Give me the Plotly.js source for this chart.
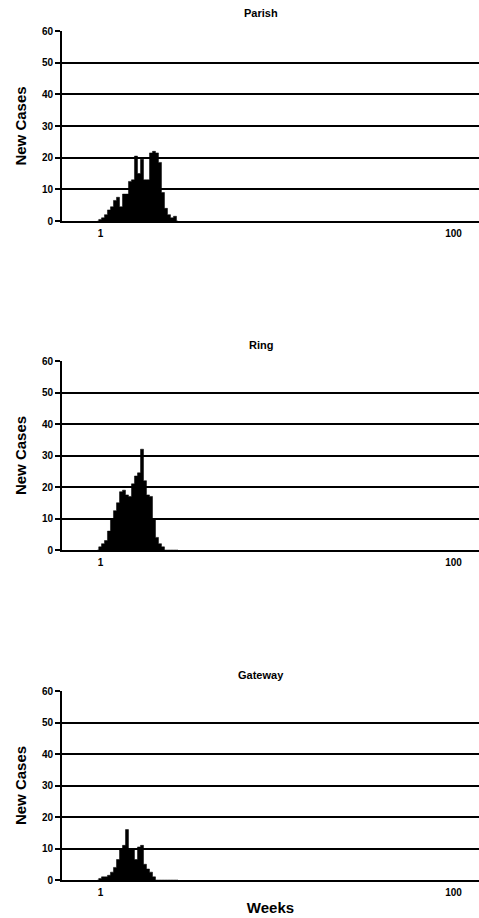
<!DOCTYPE html>
<html>
<head>
<meta charset="utf-8">
<script src="https://cdn.plot.ly/plotly-3.0.1.min.js"></script>
<style>html,body{margin:0;padding:0;background:#fff;}#chart{width:479px;height:918px;}</style>
</head>
<body>
<div id="chart"></div>
<script>
// Bin centres (weeks), with empty edge bins
const weeks = [0.961, 0.994, 1.033, 1.074, 1.117, 1.162, 1.208, 1.257, 1.307, 1.359, 1.413, 1.469, 1.528, 1.589, 1.653, 1.719, 1.787, 1.858, 1.933, 2.010, 2.090, 2.173, 2.260, 2.350, 2.444, 2.542, 2.643, 2.749];
const parishCases  = [0, 0.5, 1, 2, 3.5, 4.5, 6.5, 7.5, 4.5, 8.5, 8.5, 12.5, 13, 20.5, 15, 19.5, 13, 13, 21.5, 22, 21.5, 18.5, 9, 4, 2, 1, 1.5, 0];
const ringCases    = [0, 1, 2, 3, 6, 10, 12.5, 15, 18.5, 19, 17.5, 17, 21, 23.5, 24.5, 32, 22, 17.5, 17, 10, 4, 2, 1, 0, 0, 0, 0, 0];
const gatewayCases = [0, 0.5, 1, 1, 1.5, 2.5, 4, 6.5, 9.5, 11, 16, 10, 9.5, 6.5, 10.5, 11, 5, 3.5, 2.5, 1, 0, 0, 0, 0, 0, 0, 0, 0];
const panelNames = ['Parish', 'Ring', 'Gateway'];
const xTickVals = [1, 100];
const xTickText = ['1', '100'];
const yTickVals = [0, 10, 20, 30, 40, 50, 60];

const F = 'Liberation Sans, Arial, Helvetica, sans-serif';
const series = [parishCases, ringCases, gatewayCases];
const traces = series.map((ys, i) => ({
  type: 'scatter', mode: 'lines', x: weeks, y: ys,
  line: {shape: 'hvh', color: '#000', width: 0.5},
  fill: 'tozeroy', fillcolor: '#000',
  xaxis: i === 0 ? 'x' : 'x' + (i + 1),
  yaxis: i === 0 ? 'y' : 'y' + (i + 1),
  showlegend: false, hoverinfo: 'x+y'
}));

const H = 918;
const panels = [[31, 221], [361, 550], [691, 880]];
const titleY = [13, 345, 675];
const layout = {
  width: 479, height: 918,
  margin: {l: 62, r: 0, t: 0, b: 0},
  paper_bgcolor: '#fff', plot_bgcolor: '#fff',
  showlegend: false,
  annotations: []
};
panels.forEach((p, i) => {
  const sx = i === 0 ? '' : String(i + 1);
  layout['xaxis' + sx] = {
    type: 'log', range: [-0.218, 2.1445],
    anchor: 'y' + sx,
    tickvals: xTickVals, ticktext: xTickText,
    showgrid: false, zeroline: false,
    showline: true, linecolor: '#000', linewidth: 2,
    ticks: '', ticklabelstandoff: 2,
    tickfont: {family: F, size: 10, color: '#000', weight: 700},
    title: i === 2 ? {text: 'Weeks', font: {family: F, size: 15, color: '#000', weight: 700}, standoff: 5} : {text: ''}
  };
  layout['yaxis' + sx] = {
    domain: [1 - p[1] / H, 1 - p[0] / H],
    anchor: 'x' + sx,
    range: [0, 60], tickvals: yTickVals,
    showgrid: true, gridcolor: '#000', gridwidth: 2,
    zeroline: false,
    showline: true, linecolor: '#000', linewidth: 2,
    ticks: 'outside', ticklen: 5, tickwidth: 2, tickcolor: '#000',
    tickfont: {family: F, size: 10, color: '#000', weight: 700},
    title: {text: 'New Cases', font: {family: F, size: 15, color: '#000', weight: 700}, standoff: 12}
  };
  layout.annotations.push({
    text: panelNames[i], xref: 'paper', yref: 'paper',
    x: (261 - 62) / 417, y: 1 - titleY[i] / H,
    xanchor: 'center', yanchor: 'middle', showarrow: false,
    font: {family: F, size: 11, color: '#000', weight: 700}
  });
});

Plotly.newPlot('chart', traces, layout, {displayModeBar: false, staticPlot: true});
</script>
</body>
</html>
